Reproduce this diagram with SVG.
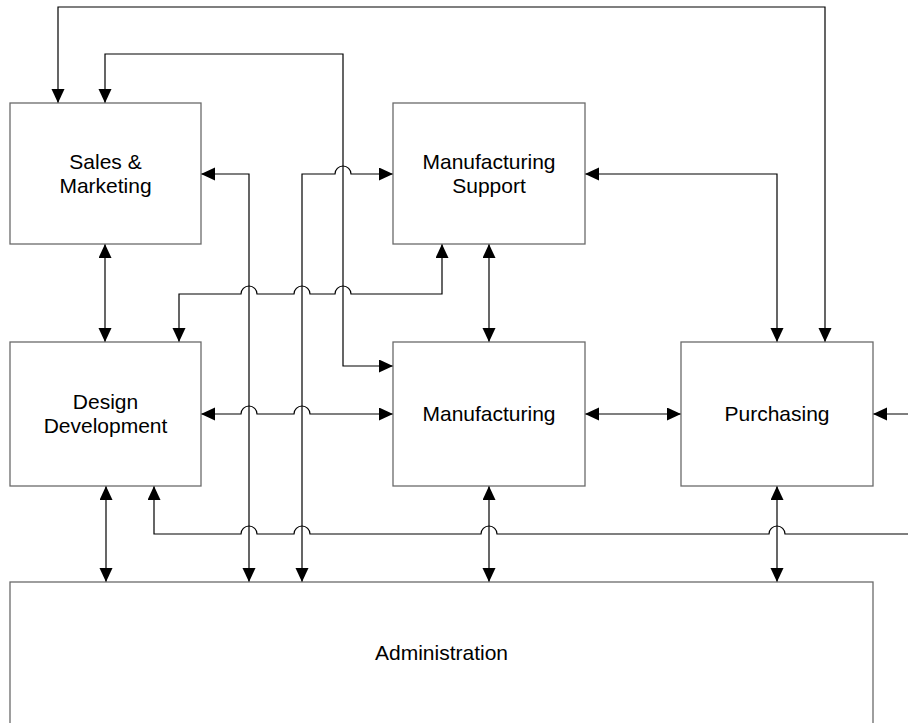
<svg xmlns="http://www.w3.org/2000/svg" width="908" height="723" viewBox="0 0 908 723">
<style>
.box{fill:#fff;stroke:#6a6a6a;stroke-width:1.3}
.lbl{font-family:"Liberation Sans",Arial,sans-serif;font-size:21px;fill:#000;text-anchor:middle}
.c{fill:none;stroke:#000;stroke-width:1.2}
.b{marker-start:url(#ah);marker-end:url(#ah)}
.e{marker-end:url(#ah)}
.s{marker-start:url(#ah)}
</style>
<defs>
<marker id="ah" markerUnits="userSpaceOnUse" markerWidth="15" markerHeight="14" refX="14" refY="6.5" orient="auto-start-reverse">
<path d="M0,0 L14,6.5 L0,13 z" fill="#000"/>
</marker>
</defs>
<rect width="908" height="723" fill="#fff"/>
<g id="connectors">
<path class="c b" d="M58,103 V7 H825 V342"/>
<path class="c b" d="M105,103 V54 H343 V366 H393"/>
<path class="c b" d="M201,174 H249 V582"/>
<path class="c b" d="M393,174 H351 A8,8 0 0 0 335,174 H302 V582"/>
<path class="c b" d="M585,174 H777 V342"/>
<path class="c b" d="M105,244 V342"/>
<path class="c b" d="M489,244 V342"/>
<path class="c b" d="M179,342 V294 H241 A8,8 0 0 1 257,294 H294 A8,8 0 0 1 310,294 H335 A8,8 0 0 1 351,294 H442 V244"/>
<path class="c b" d="M201,414 H241 A8,8 0 0 1 257,414 H294 A8,8 0 0 1 310,414 H393"/>
<path class="c b" d="M585,414 H681"/>
<path class="c e" d="M908,414 H873"/>
<path class="c s" d="M154,486 V534 H241 A8,8 0 0 1 257,534 H294 A8,8 0 0 1 310,534 H481 A8,8 0 0 1 497,534 H769 A8,8 0 0 1 785,534 H908"/>
<path class="c b" d="M106,486 V582"/>
<path class="c b" d="M489,486 V582"/>
<path class="c b" d="M777,486 V582"/>
</g>
<g id="sales-marketing">
<rect class="box" x="10" y="103" width="191" height="141"/>
<text class="lbl" x="105.5" y="169">Sales &amp;</text>
<text class="lbl" x="105.5" y="193">Marketing</text>
</g>
<g id="manufacturing-support">
<rect class="box" x="393" y="103" width="192" height="141"/>
<text class="lbl" x="489" y="169">Manufacturing</text>
<text class="lbl" x="489" y="193">Support</text>
</g>
<g id="design-development">
<rect class="box" x="10" y="342" width="191" height="144"/>
<text class="lbl" x="105.5" y="409">Design</text>
<text class="lbl" x="105.5" y="433">Development</text>
</g>
<g id="manufacturing">
<rect class="box" x="393" y="342" width="192" height="144"/>
<text class="lbl" x="489" y="421">Manufacturing</text>
</g>
<g id="purchasing">
<rect class="box" x="681" y="342" width="192" height="144"/>
<text class="lbl" x="777" y="421">Purchasing</text>
</g>
<g id="administration">
<rect class="box" x="10" y="582" width="863" height="143"/>
<text class="lbl" x="441.5" y="660">Administration</text>
</g>
</svg>
